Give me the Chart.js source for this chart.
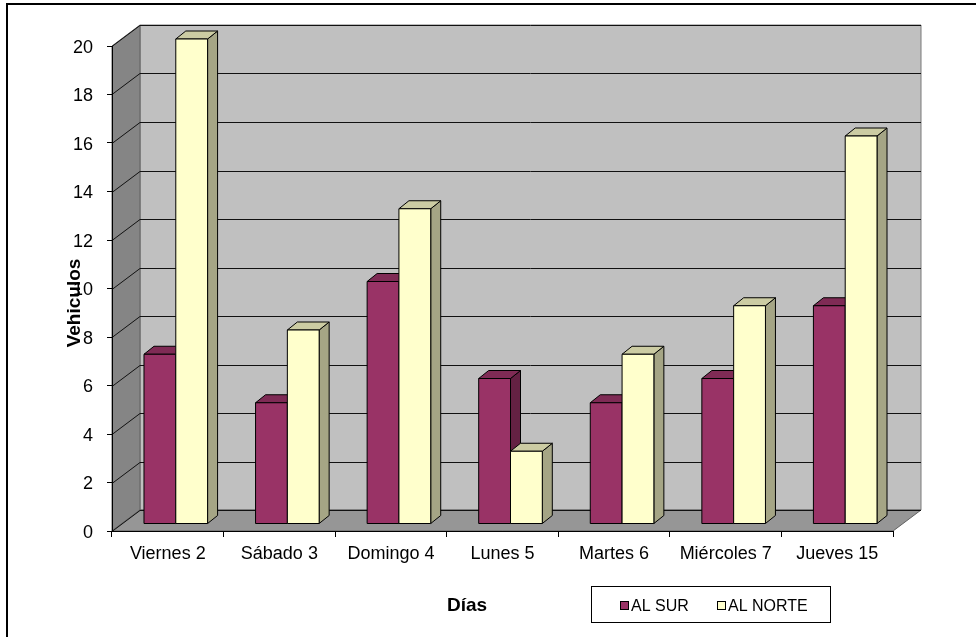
<!DOCTYPE html>
<html>
<head>
<meta charset="utf-8">
<script src="https://cdn.jsdelivr.net/npm/chart.js@4.4.1/dist/chart.umd.min.js"></script>
<style>
  html, body { margin: 0; padding: 0; background: #ffffff; }
  #wrap { width: 976px; height: 637px; position: relative; }
</style>
</head>
<body>
<div id="wrap"><canvas id="c" width="976" height="637"></canvas></div>
<script>
// Vehicle counts per day and direction
const days = ['Viernes 2', 'Sábado 3', 'Domingo 4', 'Lunes 5', 'Martes 6', 'Miércoles 7', 'Jueves 15'];
const alSur = [7, 5, 10, 6, 5, 6, 9];
const alNorte = [20, 8, 13, 3, 7, 9, 16];
const seriesNames = ['AL SUR', 'AL NORTE'];
const yAxisTitle = 'Vehiculos';
const xAxisTitle = 'Días';

// face colours of the 3D columns: front, top, side
const faceColors = [
  { front: '#993366', top: '#7f2b55', side: '#642143' },
  { front: '#ffffcc', top: '#cccca3', side: '#a5a585' }
];

// projection of the box depth
const WALL_DX = 28, WALL_DY = 21;   // full depth of walls and floor
const BAR_OX = 8, BAR_OY = 7;       // columns sit a bit behind the front plane
const BAR_DX = 10, BAR_DY = 8;      // depth of each column

const FONT = "'Liberation Sans', Arial, sans-serif";
Chart.defaults.font.family = FONT;
Chart.defaults.color = '#000';

function poly(ctx, pts, fill, stroke) {
  ctx.beginPath();
  ctx.moveTo(pts[0][0], pts[0][1]);
  for (let i = 1; i < pts.length; i++) ctx.lineTo(pts[i][0], pts[i][1]);
  ctx.closePath();
  if (fill) { ctx.fillStyle = fill; ctx.fill(); }
  if (stroke) { ctx.strokeStyle = stroke; ctx.stroke(); }
}

// walls, floor and the gridlines running over them
const wallsPlugin = {
  id: 'walls',
  beforeDraw(chart) {
    const ctx = chart.ctx;
    const { left, right, top, bottom } = chart.chartArea;
    const ys = chart.scales.y;
    ctx.save();
    ctx.fillStyle = '#ffffff';
    ctx.fillRect(0, 0, chart.width, chart.height);

    // outer frame
    ctx.lineWidth = 2;
    ctx.strokeStyle = '#000';
    ctx.strokeRect(7, 4, chart.width + 20, chart.height + 20);

    ctx.lineWidth = 1;
    ctx.lineJoin = 'miter';
    // back wall
    poly(ctx, [[left + WALL_DX, top - WALL_DY], [right + WALL_DX, top - WALL_DY],
               [right + WALL_DX, bottom - WALL_DY], [left + WALL_DX, bottom - WALL_DY]], '#c0c0c0', '#7a7a7a');
    // side wall
    poly(ctx, [[left, top], [left + WALL_DX, top - WALL_DY],
               [left + WALL_DX, bottom - WALL_DY], [left, bottom]], '#858585', '#606060');
    // floor
    poly(ctx, [[left, bottom], [right, bottom],
               [right + WALL_DX, bottom - WALL_DY], [left + WALL_DX, bottom - WALL_DY]], '#969696', '#606060');

    // gridlines on side wall and back wall
    ctx.strokeStyle = '#111';
    ctx.lineWidth = 1;
    ys.ticks.forEach(t => {
      const py = Math.round(ys.getPixelForValue(t.value)) + 0.5;
      ctx.beginPath();
      ctx.moveTo(left, py);
      ctx.lineTo(left + WALL_DX, py - WALL_DY);
      ctx.lineTo(right + WALL_DX, py - WALL_DY);
      ctx.stroke();
    });
    ctx.restore();
  }
};

// columns drawn as boxes from the bar elements computed by Chart.js
const columnsPlugin = {
  id: 'columns3d',
  beforeDatasetDraw() { return false; },
  afterDatasetsDraw(chart) {
    const ctx = chart.ctx;
    ctx.save();
    ctx.lineWidth = 1;
    ctx.lineJoin = 'round';
    const metas = chart.data.datasets.map((d, i) => chart.getDatasetMeta(i));
    for (let i = 0; i < chart.data.labels.length; i++) {
      metas.forEach((m, di) => {
        const el = m.data[i];
        const { x, y, base, width } = el.getProps(['x', 'y', 'base', 'width'], true);
        const c = faceColors[di];
        const l = x - width / 2 + BAR_OX, r = x + width / 2 + BAR_OX;
        const t = y - BAR_OY, b = base - BAR_OY;
        poly(ctx, [[r, t], [r + BAR_DX, t - BAR_DY], [r + BAR_DX, b - BAR_DY], [r, b]], c.side, '#000');
        poly(ctx, [[l, t], [r, t], [r + BAR_DX, t - BAR_DY], [l + BAR_DX, t - BAR_DY]], c.top, '#000');
        poly(ctx, [[l, t], [r, t], [r, b], [l, b]], c.front, '#000');
      });
    }
    ctx.restore();
  }
};

// axis titles and the boxed legend
const labelsPlugin = {
  id: 'labels',
  afterDraw(chart) {
    const ctx = chart.ctx;
    ctx.save();
    ctx.fillStyle = '#000';
    ctx.font = 'bold 19px ' + FONT;
    ctx.textAlign = 'center';
    ctx.textBaseline = 'middle';
    ctx.save();
    ctx.translate(75, 303);
    ctx.rotate(-Math.PI / 2);
    ctx.fillText(yAxisTitle, 0, 0);
    ctx.restore();
    ctx.fillText(xAxisTitle, 467, 606);

    // legend
    ctx.lineWidth = 1;
    ctx.strokeStyle = '#000';
    ctx.strokeRect(591.5, 586.5, 239, 36);
    ctx.font = '16px ' + FONT;
    ctx.textAlign = 'left';
    const itemX = [620, 717];
    chart.data.datasets.forEach((ds, i) => {
      const sx = itemX[i];
      ctx.fillStyle = faceColors[i].front;
      ctx.fillRect(sx + 0.5, 601.5, 8, 8);
      ctx.strokeRect(sx + 0.5, 601.5, 8, 8);
      ctx.fillStyle = '#000';
      ctx.fillText(ds.label, sx + 11, 607);
    });
    ctx.restore();
  }
};

new Chart(document.getElementById('c'), {
  type: 'bar',
  data: {
    labels: days,
    datasets: [
      { label: seriesNames[0], data: alSur, backgroundColor: faceColors[0].front },
      { label: seriesNames[1], data: alNorte, backgroundColor: faceColors[1].front }
    ]
  },
  options: {
    responsive: false,
    devicePixelRatio: 1,
    animation: false,
    layout: { padding: { top: 46, right: 83, bottom: 0, left: 0 } },
    datasets: { bar: { categoryPercentage: 0.57, barPercentage: 1.0 } },
    plugins: { legend: { display: false }, tooltip: { enabled: false } },
    scales: {
      x: {
        offset: true,
        ticks: { color: '#000', font: { size: 18 }, padding: 6, maxRotation: 0, autoSkip: false },
        grid: { offset: true, drawOnChartArea: false, drawTicks: true, tickLength: 6, color: '#000' },
        border: { display: true, color: '#000' },
        afterFit(s) { s.height = 106; }
      },
      y: {
        min: 0,
        max: 20,
        ticks: { stepSize: 2, color: '#000', font: { size: 18 }, padding: 14, labelOffset: 2 },
        grid: { drawOnChartArea: false, drawTicks: true, tickLength: 5, color: '#000' },
        border: { display: true, color: '#000' },
        afterFit(s) { s.width = 112; }
      }
    }
  },
  plugins: [wallsPlugin, columnsPlugin, labelsPlugin]
});
</script>
</body>
</html>
